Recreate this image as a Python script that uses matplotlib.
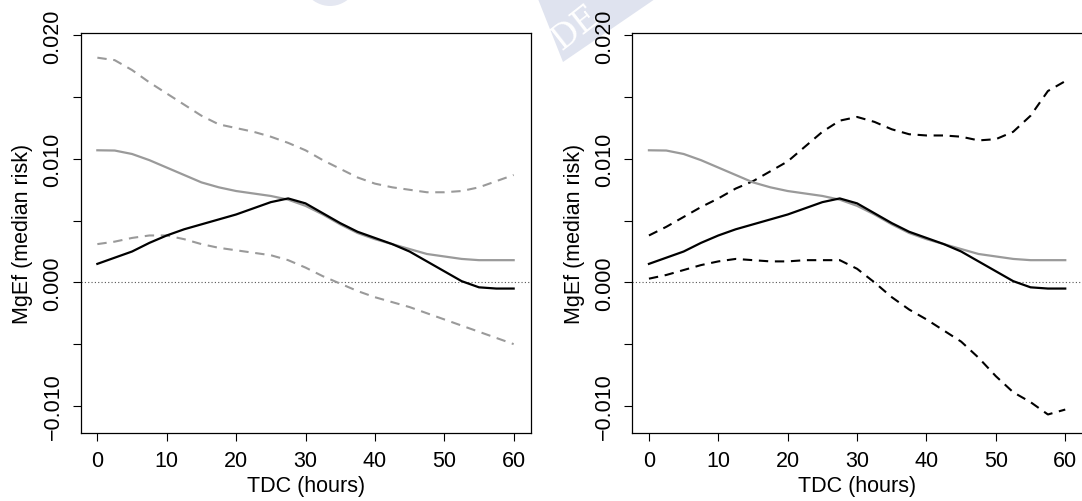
import matplotlib
matplotlib.use("Agg")
import matplotlib.pyplot as plt
from matplotlib.patches import Polygon, Ellipse
import numpy as np

plt.rcParams['font.family'] = ['Liberation Sans', 'DejaVu Sans']

# hours
tdc = [0, 2.5, 5, 7.5, 10, 12.5, 15, 17.5, 20, 22.5, 25, 27.5, 30,
       32.5, 35, 37.5, 40, 42.5, 45, 47.5, 50, 52.5, 55, 57.5, 60]

# median risk curves (same in both panels)
black_fit = [0.0015, 0.0020, 0.0025, 0.0032, 0.0038, 0.0043, 0.0047, 0.0051, 0.0055,
             0.0060, 0.0065, 0.0068, 0.0064, 0.0056, 0.0048, 0.0041, 0.0036, 0.0031,
             0.0025, 0.0017, 0.0009, 0.0001, -0.0004, -0.0005, -0.0005]
gray_fit = [0.0107, 0.01068, 0.0104, 0.0099, 0.0093, 0.0087, 0.0081, 0.0077, 0.0074,
            0.0072, 0.0070, 0.0067, 0.0062, 0.0055, 0.0047, 0.0040, 0.0035, 0.0031,
            0.0027, 0.0023, 0.0021, 0.0019, 0.0018, 0.0018, 0.0018]

# left panel bands (gray)
gray_upper = [0.0182, 0.0180, 0.0172, 0.0162, 0.0153, 0.0144, 0.0135, 0.0128, 0.0125,
              0.0122, 0.0118, 0.0113, 0.0107, 0.0099, 0.0092, 0.0085, 0.0080, 0.0077,
              0.0075, 0.0073, 0.0073, 0.0074, 0.0077, 0.0082, 0.0087]
gray_lower = [0.0031, 0.0033, 0.0036, 0.0038, 0.0038, 0.0035, 0.0031, 0.0028, 0.0026,
              0.0024, 0.0022, 0.0018, 0.0012, 0.0005, -0.0001, -0.0007, -0.0012, -0.0016,
              -0.0020, -0.0025, -0.0030, -0.0035, -0.0040, -0.0045, -0.0050]

# right panel bands (black)
black_upper = [0.0038, 0.0045, 0.0053, 0.0061, 0.0068, 0.0076, 0.0082, 0.0090, 0.0098,
               0.0110, 0.0122, 0.0131, 0.0134, 0.0130, 0.0124, 0.0120, 0.0119, 0.0119,
               0.0118, 0.0115, 0.0116, 0.0122, 0.0135, 0.0155, 0.0163]
black_lower = [0.0003, 0.0006, 0.0010, 0.0014, 0.0017, 0.0019, 0.0018, 0.0017, 0.0017,
               0.0018, 0.0018, 0.0018, 0.0011, 0.0000, -0.0012, -0.0022, -0.0030, -0.0039,
               -0.0048, -0.0061, -0.0076, -0.0089, -0.0097, -0.0107, -0.0103]

yticks = [-0.010, -0.005, 0.000, 0.005, 0.010, 0.015, 0.020]
ytick_labels = ['\u22120.010', '', '0.000', '', '0.010', '', '0.020']
xticks = [0, 10, 20, 30, 40, 50, 60]

W, H = 1082, 502
fig = plt.figure(figsize=(W / 100, H / 100), dpi=100)

# watermark bits behind everything
wm = '#dfe3ef'
band = Polygon([(538 / W, 1), (563 / W, 1 - 63 / H), (655 / W, 1)], closed=True,
               transform=fig.transFigure, facecolor=wm, edgecolor='none', zorder=-5)
fig.patches.append(band)
fig.text(576 / W, 1 - 28 / H, 'DE', color='white', fontsize=24, family='DejaVu Serif',
         rotation=38, ha='center', va='center', zorder=-4)
circ = Ellipse((330 / W, 1 + 38 / H), 70 / W, 90 / H, transform=fig.transFigure,
               facecolor='#e4e7f1', edgecolor='none', zorder=-5)
fig.patches.append(circ)

gray = '#9a9a9a'
fs = 15.5


def panel(left_px, upper, lower, band_col):
    ax = fig.add_axes([left_px / W, (H - 434) / H, 450.3 / W, 400 / H])
    ax.patch.set_alpha(0)
    ax.axhline(0, color='#555555', lw=0.8, ls=(0, (1, 2)))
    ax.plot(tdc, upper, color=band_col, lw=1.5, dashes=(4.5, 3.2))
    ax.plot(tdc, lower, color=band_col, lw=1.5, dashes=(4.5, 3.2))
    ax.plot(tdc, gray_fit, color=gray, lw=1.6)
    ax.plot(tdc, black_fit, color='black', lw=1.6)
    ax.set_xlim(-2.4, 62.5)
    ax.set_ylim(-0.0122, 0.0202)
    ax.set_xticks(xticks)
    ax.set_yticks(yticks)
    ax.set_yticklabels(ytick_labels, rotation=90, va='center')
    ax.tick_params(direction='out', length=5.8, width=0.8, labelsize=fs, pad=6.5)
    for s in ax.spines.values():
        s.set_linewidth(0.9)
    ax.set_xlabel('TDC (hours)', fontsize=fs)
    ax.set_ylabel('MgEf (median risk)', fontsize=fs)
    ax.xaxis.set_label_coords(0.5, -0.105)
    ax.yaxis.set_label_coords(-0.105, 0.5)
    return ax


panel(80.7, gray_upper, gray_lower, gray)
panel(632.3, black_upper, black_lower, 'black')

fig.savefig('out.png', dpi=100)
